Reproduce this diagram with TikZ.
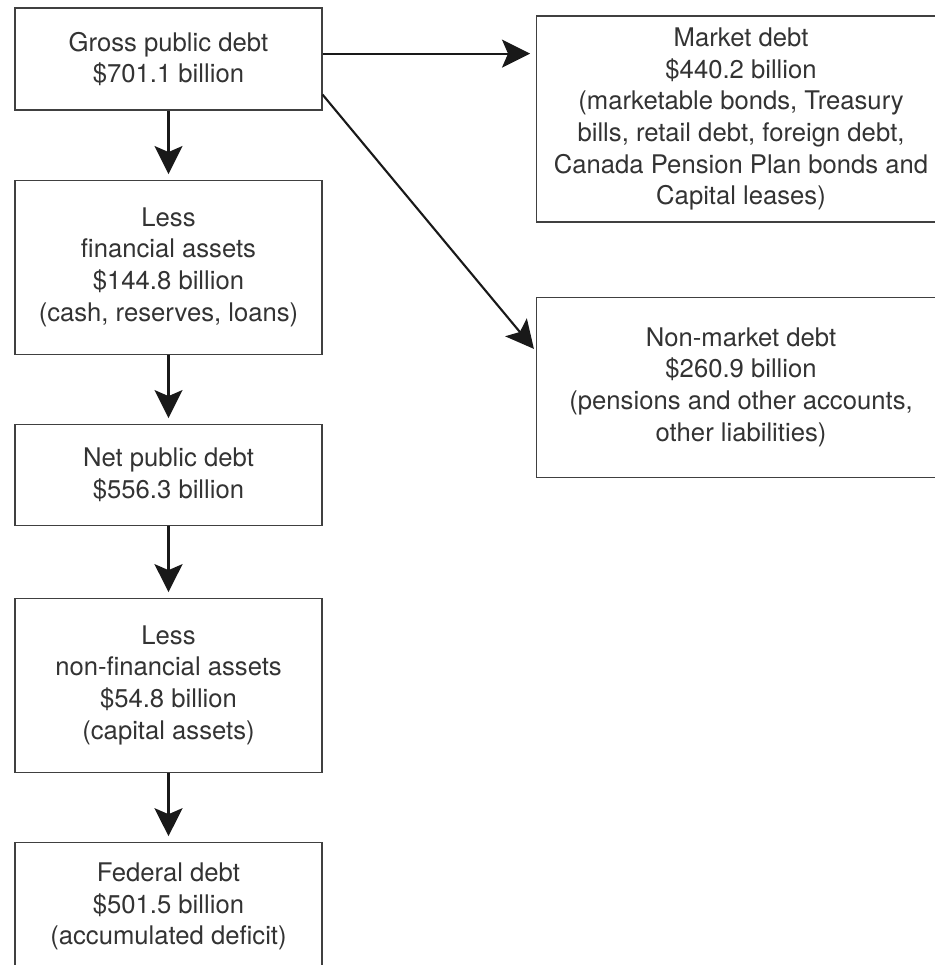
\documentclass[tikz,border=0pt]{standalone}
\usepackage{fontspec}
\setmainfont{TeX Gyre Heros}
\usetikzlibrary{positioning}
\usetikzlibrary{arrows.meta}
\tikzset{debtbox/.style={draw=black!75, line width=0.6pt, align=center, text=black!80, inner sep=0pt, font=\fontsize{14.6}{18}\selectfont},
  leftbox/.style={debtbox, minimum width=6.14cm},
  rightbox/.style={debtbox, minimum width=8.2cm},
  flow/.style={-{Stealth[length=0.56cm,width=0.56cm,inset=0.12cm]}, line width=1.2pt, black!90, shorten >=0.11cm}}

\begin{document}
\begin{tikzpicture}
    \path[use as bounding box, clip] (0,0) rectangle (18.7,-19.3);

    \node (gross) at (3.37,-1.18) [leftbox, minimum height=2.04cm] {Gross public debt\\\$701.1 billion};
    \node (finassets) [below=1.38cm of gross, leftbox, minimum height=3.48cm] {Less\\financial assets\\\$144.8 billion\\(cash, reserves, loans)};
    \node (net) [below=1.38cm of finassets, leftbox, minimum height=2.02cm] {Net public debt\\\$556.3 billion};
    \node (nonfinassets) [below=1.44cm of net, leftbox, minimum height=3.48cm] {Less\\non-financial assets\\\$54.8 billion\\(capital assets)};
    \node (federal) [below=1.38cm of nonfinassets, leftbox, minimum height=2.58cm] {Federal debt\\\$501.5 billion\\(accumulated deficit)};

    \node (market) [below right=0.16cm and 4.26cm of gross.north east, rightbox, minimum height=4.12cm] {Market debt\\\$440.2 billion\\(marketable bonds, Treasury\\bills, retail debt, foreign debt,\\Canada Pension Plan bonds and\\Capital leases)};
    \node (nonmarket) [below=1.48cm of market.south west, anchor=north west, rightbox, minimum height=3.6cm] {Non-market debt\\\$260.9 billion\\(pensions and other accounts,\\other liabilities)};

    \draw[flow] (gross) -- (finassets);
    \draw[flow] (finassets) -- (net);
    \draw[flow] (net) -- (nonfinassets);
    \draw[flow] (nonfinassets) -- (federal);
    \draw[flow] (gross.2) -- (gross.2 -| market.west);
    \draw[flow, shorten >=0.05cm] (gross.-13) -- (nonmarket.170);
\end{tikzpicture}
\end{document}
